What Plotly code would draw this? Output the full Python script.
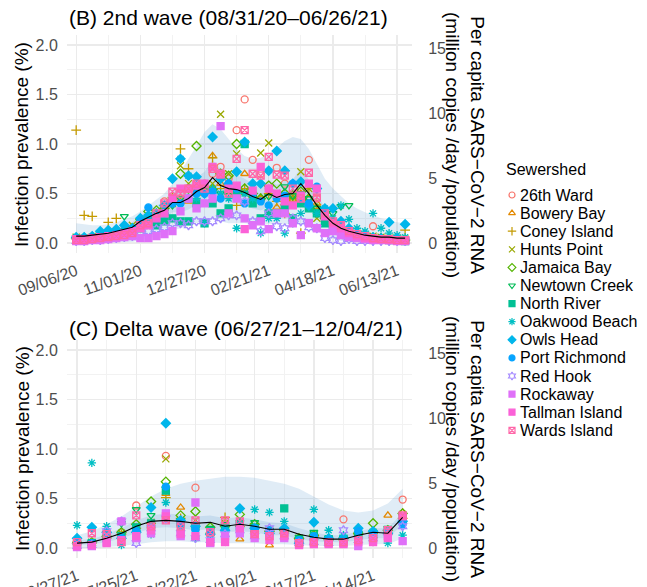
import plotly.graph_objects as go
import pandas as pd

W, H = 647, 587
FONT = "Liberation Sans, Arial, Helvetica, sans-serif"

# ---------------- data ----------------
sewersheds = ["26th Ward", "Bowery Bay", "Coney Island", "Hunts Point", "Jamaica Bay",
              "Newtown Creek", "North River", "Oakwood Beach", "Owls Head", "Port Richmond",
              "Red Hook", "Rockaway", "Tallman Island", "Wards Island"]
colors = ["#F8766D", "#E38900", "#C49A00", "#99A800", "#53B400", "#00BC56", "#00C094",
          "#00BFC4", "#00B6EB", "#06A4FF", "#A58AFF", "#DF70F8", "#FB61D7", "#FF66A8"]
symbols = ["circle-open", "triangle-up-open", "cross-thin-open", "x-thin-open", "diamond-open",
           "triangle-down-open", "square", "asterisk-open", "diamond", "circle",
           "hexagram-open", "square", "square", "square-x-open"]

weeks_b = pd.date_range("2020-09-06", periods=42, freq="7D")
weeks_c = pd.date_range("2021-06-27", periods=23, freq="7D")

# 2nd wave (B) prevalence (%) by sewershed
prev_b = {
    "26th Ward":     [0.04,0.03,0.05,0.06,0.08,0.10,0.12,0.14,0.20,0.25,0.30,0.42,0.40,0.45,0.50,0.55,0.60,0.70,0.77,0.65,1.14,1.45,0.84,0.70,0.55,0.76,0.60,0.45,0.55,0.84,0.45,0.30,0.20,0.15,0.10,0.08,0.06,0.17,0.05,0.04,0.03,0.03],
    "Bowery Bay":    [0.05,0.04,0.05,0.06,0.07,0.09,0.11,0.13,0.18,0.28,0.26,0.30,0.46,0.42,0.42,0.50,0.55,0.88,0.60,0.52,0.55,0.70,0.48,0.45,0.50,0.36,0.40,0.44,0.50,0.45,0.40,0.28,0.18,0.12,0.10,0.08,0.06,0.05,0.05,0.04,0.04,0.03],
    "Coney Island":  [1.14,0.28,0.27,0.10,0.21,0.25,0.12,0.14,0.22,0.24,0.30,0.35,0.46,0.95,0.75,0.55,0.53,0.86,0.55,0.50,0.38,0.55,0.60,0.45,0.50,0.42,0.30,0.45,0.10,0.55,0.35,0.30,0.18,0.14,0.10,0.08,0.06,0.06,0.05,0.04,0.04,0.13],
    "Hunts Point":   [0.06,0.05,0.06,0.07,0.08,0.10,0.12,0.18,0.20,0.18,0.30,0.35,0.40,0.78,0.60,0.55,0.55,0.60,1.30,0.70,0.90,0.52,0.47,0.91,1.01,0.50,0.45,0.48,0.72,0.55,0.25,0.30,0.20,0.15,0.12,0.10,0.08,0.07,0.06,0.05,0.05,0.04],
    "Jamaica Bay":   [0.05,0.05,0.06,0.07,0.08,0.10,0.12,0.15,0.24,0.32,0.33,0.35,0.40,0.70,0.55,0.98,0.55,0.54,0.70,0.68,1.00,0.55,0.50,0.45,0.58,0.60,0.50,0.48,0.52,0.45,0.35,0.25,0.18,0.14,0.10,0.08,0.06,0.05,0.05,0.04,0.04,0.03],
    "Newtown Creek": [0.06,0.05,0.06,0.07,0.08,0.10,0.27,0.15,0.20,0.22,0.28,0.32,0.38,0.45,0.55,0.55,0.54,0.53,0.50,0.48,0.52,0.50,0.46,0.43,0.47,0.48,0.57,0.48,0.50,0.45,0.35,0.25,0.30,0.37,0.38,0.10,0.08,0.06,0.05,0.05,0.04,0.02],
    "North River":   [0.04,0.04,0.05,0.05,0.06,0.08,0.10,0.12,0.15,0.20,0.18,0.22,0.25,0.22,0.22,0.40,0.20,0.40,0.30,0.35,0.50,1.00,0.40,0.25,0.30,0.30,0.35,0.25,0.40,0.35,0.30,0.20,0.15,0.12,0.10,0.08,0.05,0.04,0.04,0.03,0.03,0.02],
    "Oakwood Beach": [0.05,0.05,0.06,0.07,0.08,0.10,0.12,0.14,0.18,0.22,0.25,0.30,0.40,0.85,0.68,0.45,0.20,0.55,0.50,0.45,0.15,0.50,0.45,0.10,0.25,0.25,0.10,0.20,0.30,0.40,0.30,0.35,0.25,0.38,0.24,0.15,0.12,0.30,0.15,0.10,0.08,0.06],
    "Owls Head":     [0.06,0.06,0.07,0.12,0.13,0.14,0.18,0.15,0.25,0.28,0.30,0.38,0.65,0.85,0.68,0.67,0.50,1.07,0.65,0.60,0.72,1.02,0.60,0.60,0.73,0.93,0.73,0.60,0.62,0.38,0.55,0.35,0.35,0.22,0.15,0.10,0.08,0.06,0.05,0.21,0.05,0.19],
    "Port Richmond": [0.04,0.04,0.05,0.06,0.07,0.09,0.10,0.12,0.22,0.36,0.25,0.30,0.40,0.40,0.45,0.50,0.50,0.52,0.45,0.60,0.55,0.40,0.50,0.42,0.38,0.45,0.48,0.60,0.45,0.40,0.57,0.30,0.20,0.15,0.10,0.08,0.06,0.05,0.04,0.04,0.03,0.03],
    "Red Hook":      [0.02,0.02,0.03,0.03,0.04,0.05,0.06,0.07,0.10,0.12,0.14,0.16,0.20,0.20,0.18,0.22,0.22,0.22,0.25,0.28,0.28,0.42,0.22,0.12,0.30,0.17,0.15,0.25,0.22,0.16,0.15,0.05,0.03,0.02,0.04,0.02,0.02,0.02,0.02,0.02,0.02,0.02],
    "Rockaway":      [0.02,0.02,0.03,0.03,0.04,0.05,0.06,0.07,0.05,0.05,0.07,0.09,0.12,0.32,0.45,0.35,0.40,0.45,1.18,0.30,0.45,0.25,0.18,0.22,0.14,0.30,0.30,0.20,0.08,0.20,0.15,0.10,0.12,0.08,0.06,0.05,0.04,0.03,0.03,0.03,0.02,0.02],
    "Tallman Island":[0.04,0.04,0.05,0.06,0.07,0.08,0.10,0.12,0.15,0.18,0.25,0.30,0.45,0.55,0.55,0.58,0.60,0.77,0.70,0.55,0.58,0.14,0.53,0.77,0.55,0.50,0.42,0.38,0.48,0.60,0.55,0.27,0.20,0.15,0.10,0.07,0.05,0.04,0.04,0.03,0.03,0.03],
    "Wards Island":  [0.03,0.03,0.04,0.05,0.06,0.07,0.08,0.10,0.18,0.20,0.30,0.40,0.52,0.50,0.55,0.60,0.55,0.75,0.69,0.50,0.85,1.14,0.70,0.68,0.87,0.69,0.68,0.55,0.45,0.71,0.46,0.30,0.22,0.18,0.12,0.09,0.07,0.05,0.04,0.04,0.03,0.03],
}
median_b   = [0.07,0.07,0.08,0.09,0.10,0.12,0.14,0.16,0.22,0.26,0.30,0.33,0.41,0.41,0.45,0.52,0.56,0.66,0.58,0.55,0.54,0.51,0.47,0.44,0.50,0.46,0.49,0.50,0.60,0.50,0.38,0.28,0.20,0.15,0.12,0.10,0.08,0.07,0.06,0.06,0.05,0.05]
outer_hi_b = [0.20,0.19,0.18,0.18,0.19,0.21,0.24,0.27,0.32,0.38,0.44,0.50,0.60,0.72,0.85,0.98,1.12,1.20,1.15,1.05,0.95,0.88,0.85,0.86,0.90,0.96,1.03,1.07,1.05,0.95,0.80,0.65,0.55,0.47,0.40,0.35,0.31,0.28,0.25,0.23,0.21,0.20]
outer_lo_b = [0.01,0.01,0.01,0.01,0.01,0.01,0.01,0.01,0.03,0.05,0.07,0.10,0.13,0.15,0.17,0.20,0.22,0.24,0.22,0.20,0.20,0.20,0.19,0.18,0.19,0.19,0.19,0.19,0.19,0.18,0.12,0.08,0.05,0.02,0.02,0.02,0.02,0.02,0.02,0.02,0.02,0.02]
inner_hi_b = [0.09,0.09,0.10,0.11,0.13,0.15,0.18,0.21,0.28,0.33,0.38,0.42,0.52,0.53,0.58,0.66,0.72,0.84,0.75,0.71,0.69,0.65,0.60,0.57,0.64,0.59,0.63,0.64,0.76,0.64,0.49,0.36,0.26,0.19,0.15,0.13,0.10,0.09,0.08,0.08,0.07,0.07]
inner_lo_b = [0.05,0.05,0.06,0.07,0.07,0.09,0.10,0.12,0.16,0.19,0.22,0.25,0.31,0.31,0.34,0.39,0.42,0.50,0.44,0.41,0.40,0.38,0.35,0.33,0.37,0.34,0.37,0.37,0.45,0.37,0.28,0.21,0.15,0.11,0.09,0.07,0.06,0.05,0.04,0.04,0.04,0.04]

# Delta wave (C) prevalence (%) by sewershed
prev_c = {
    "26th Ward":     [0.08,0.05,0.12,0.12,0.43,0.25,0.93,0.22,0.61,0.15,0.20,0.25,0.15,0.18,0.14,0.06,0.10,0.07,0.29,0.10,0.12,0.18,0.49],
    "Bowery Bay":    [0.05,0.04,0.10,0.12,0.18,0.22,0.55,0.41,0.25,0.14,0.25,0.09,0.18,0.03,0.18,0.08,0.10,0.06,0.07,0.14,0.12,0.33,0.36],
    "Coney Island":  [0.06,0.05,0.10,0.14,0.20,0.25,0.51,0.30,0.25,0.15,0.31,0.22,0.20,0.17,0.15,0.09,0.12,0.08,0.08,0.14,0.15,0.14,0.30],
    "Hunts Point":   [0.06,0.06,0.10,0.15,0.22,0.26,0.90,0.28,0.28,0.18,0.25,0.22,0.22,0.18,0.18,0.10,0.10,0.09,0.09,0.12,0.16,0.15,0.34],
    "Jamaica Bay":   [0.05,0.06,0.12,0.16,0.24,0.47,0.67,0.33,0.37,0.21,0.22,0.34,0.24,0.17,0.18,0.10,0.13,0.09,0.10,0.15,0.25,0.18,0.35],
    "Newtown Creek": [0.04,0.06,0.15,0.25,0.39,0.33,0.60,0.28,0.20,0.20,0.24,0.26,0.26,0.18,0.18,0.11,0.16,0.10,0.10,0.15,0.16,0.20,0.32],
    "North River":   [0.04,0.05,0.10,0.12,0.21,0.25,0.58,0.26,0.22,0.17,0.20,0.22,0.20,0.16,0.40,0.08,0.12,0.09,0.09,0.13,0.14,0.18,0.28],
    "Oakwood Beach": [0.23,0.86,0.22,0.03,0.18,0.14,0.46,0.18,0.10,0.08,0.12,0.26,0.39,0.36,0.27,0.06,0.39,0.18,0.13,0.10,0.10,0.05,0.13],
    "Owls Head":     [0.10,0.21,0.16,0.10,0.16,0.41,1.26,0.28,0.22,0.14,0.18,0.40,0.20,0.15,0.20,0.05,0.26,0.10,0.10,0.20,0.17,0.15,0.27],
    "Port Richmond": [0.05,0.05,0.08,0.10,0.17,0.20,0.62,0.25,0.18,0.16,0.12,0.22,0.20,0.18,0.16,0.08,0.12,0.08,0.07,0.17,0.14,0.14,0.24],
    "Red Hook":      [0.02,0.03,0.17,0.27,0.05,0.20,0.30,0.15,0.10,0.08,0.14,0.18,0.12,0.20,0.12,0.05,0.06,0.05,0.18,0.08,0.10,0.16,0.22],
    "Rockaway":      [0.01,0.02,0.06,0.27,0.10,0.15,0.35,0.12,0.46,0.05,0.12,0.15,0.10,0.12,0.10,0.04,0.06,0.05,0.05,0.02,0.08,0.12,0.07],
    "Tallman Island":[0.02,0.03,0.05,0.08,0.12,0.18,0.32,0.14,0.12,0.06,0.06,0.20,0.14,0.08,0.12,0.03,0.04,0.04,0.04,0.06,0.06,0.10,0.32],
    "Wards Island":  [0.06,0.15,0.14,0.06,0.33,0.22,0.28,0.22,0.28,0.16,0.28,0.27,0.14,0.12,0.15,0.05,0.06,0.06,0.06,0.08,0.10,0.18,0.33],
}
median_c   = [0.05,0.06,0.10,0.15,0.22,0.27,0.28,0.27,0.25,0.26,0.22,0.24,0.22,0.19,0.19,0.14,0.11,0.09,0.09,0.13,0.16,0.15,0.31]
outer_hi_c = [0.13,0.17,0.24,0.32,0.42,0.52,0.60,0.65,0.68,0.70,0.72,0.72,0.71,0.68,0.65,0.60,0.52,0.44,0.38,0.36,0.38,0.45,0.60]
outer_lo_c = [0.00,0.00,0.01,0.02,0.04,0.06,0.07,0.07,0.06,0.06,0.05,0.05,0.05,0.04,0.04,0.03,0.02,0.02,0.02,0.03,0.04,0.04,0.10]
inner_hi_c = [0.08,0.09,0.14,0.20,0.28,0.33,0.35,0.34,0.32,0.33,0.30,0.31,0.29,0.26,0.25,0.20,0.16,0.13,0.13,0.17,0.20,0.20,0.36]
inner_lo_c = [0.03,0.04,0.06,0.10,0.15,0.20,0.21,0.20,0.18,0.19,0.16,0.17,0.16,0.13,0.13,0.09,0.07,0.06,0.06,0.08,0.10,0.10,0.24]

rna_per_pct = 7.615          # secondary axis scale (million copies/day/pop per 1 % prevalence)
left_ticks = [0, 0.5, 1.0, 1.5, 2.0]
right_ticks = [0, 5, 10, 15]

# ---------------- figure ----------------
def py(p):
    return 1 - p / H

fig = go.Figure()
RIB = "rgba(100,160,210,0.20)"
MS = 7

panels = [
    (weeks_b, prev_b, median_b, outer_lo_b, outer_hi_b, inner_lo_b, inner_hi_b, "x", "y"),
    (weeks_c, prev_c, median_c, outer_lo_c, outer_hi_c, inner_lo_c, inner_hi_c, "x2", "y2"),
]
for wk, prev, med, olo, ohi, ilo, ihi, xa, ya in panels:
    for lo, hi in [(olo, ohi), (ilo, ihi)]:
        fig.add_trace(go.Scatter(x=wk, y=lo, mode="lines", line=dict(width=0), xaxis=xa, yaxis=ya,
                                 showlegend=False, hoverinfo="skip"))
        fig.add_trace(go.Scatter(x=wk, y=hi, mode="lines", line=dict(width=0), fill="tonexty",
                                 fillcolor=RIB, xaxis=xa, yaxis=ya, showlegend=False, hoverinfo="skip"))
    for name, col, sym in zip(sewersheds, colors, symbols):
        fig.add_trace(go.Scatter(x=wk, y=prev[name], mode="markers", name=name, xaxis=xa, yaxis=ya,
                                 marker=dict(symbol=sym, size=MS, color=col, line=dict(width=1.3, color=col)),
                                 showlegend=False))
    fig.add_trace(go.Scatter(x=wk, y=med, mode="lines", line=dict(color="black", width=1.1),
                             xaxis=xa, yaxis=ya, showlegend=False))

# anchor traces for the secondary (RNA) axes
fig.add_trace(go.Scatter(x=[None], y=[None], xaxis="x", yaxis="y3", showlegend=False))
fig.add_trace(go.Scatter(x=[None], y=[None], xaxis="x2", yaxis="y4", showlegend=False))

# manual legend (pixel coordinate axis)
LEG_Y0, LEG_DY = 195.0, 18.1
LEG_F = dict(size=16, color="black", family=FONT)
for i, (name, col, sym) in enumerate(zip(sewersheds, colors, symbols)):
    fig.add_trace(go.Scatter(x=[512], y=[LEG_Y0 + LEG_DY * i], mode="markers", xaxis="x3", yaxis="y5",
                             marker=dict(symbol=sym, size=6, color=col, line=dict(width=1.2, color=col)),
                             showlegend=False, hoverinfo="skip"))
    fig.add_annotation(x=518, y=LEG_Y0 + LEG_DY * i, xref="x3", yref="y5", text=name, showarrow=False,
                       xanchor="left", yanchor="middle", font=LEG_F)
fig.add_annotation(x=504, y=169, xref="x3", yref="y5", text="Sewershed", showarrow=False,
                   xanchor="left", yanchor="middle", font=LEG_F)

GRID = "#EBEBEB"
MINOR = "#F2F2F2"
TICKF = dict(size=16, color="#4D4D4D", family=FONT)
XD = [67 / W, 412 / W]
DAY = 86400000

def xaxis_cfg(rng, tick0, major_days, dom_anchor):
    return dict(domain=XD, anchor=dom_anchor, type="date", range=rng, tick0=tick0,
                dtick=major_days * DAY, tickformat="%m/%d/%y", tickangle=-20,
                showgrid=True, gridcolor=GRID, gridwidth=1.3, zeroline=False, showline=False,
                ticks="outside", ticklen=2, tickcolor="rgba(0,0,0,0)", tickfont=TICKF,
                minor=dict(tick0=tick0, dtick=major_days // 2 * DAY, showgrid=True,
                           gridcolor=MINOR, gridwidth=1.0, ticks=""),
                automargin=False)

def yaxis_cfg(dom, anchor):
    return dict(domain=dom, anchor=anchor, range=[-0.1, 2.1], tickvals=left_ticks, tickformat=".1f",
                showgrid=True, gridcolor=GRID, gridwidth=1.3, zeroline=False, showline=False,
                ticks="outside", ticklen=5, tickcolor="rgba(0,0,0,0)", tickfont=TICKF,
                minor=dict(tick0=0, dtick=0.25, showgrid=True, gridcolor=MINOR, gridwidth=1.0, ticks=""),
                automargin=False)

def raxis_cfg(over, anchor):
    return dict(overlaying=over, anchor=anchor, side="right",
                range=[-0.1 * rna_per_pct, 2.1 * rna_per_pct], tickvals=right_ticks,
                showgrid=False, zeroline=False, showline=False, ticks="outside", ticklen=12,
                tickcolor="rgba(0,0,0,0)", tickfont=TICKF, automargin=False)

fig.update_layout(
    width=W, height=H, template="none",
    margin=dict(l=0, r=0, t=0, b=0, pad=0),
    paper_bgcolor="white", plot_bgcolor="rgba(0,0,0,0)",
    font=dict(family=FONT, color="black"),
    showlegend=False,
    xaxis=xaxis_cfg(["2020-08-29", "2021-06-26"], "2020-09-06", 56, "y"),
    xaxis2=xaxis_cfg(["2021-06-22 06:00", "2021-12-02 10:00"], "2021-06-27", 28, "y2"),
    yaxis=yaxis_cfg([py(253), py(35)], "x"),
    yaxis2=yaxis_cfg([py(558), py(340)], "x2"),
    yaxis3=raxis_cfg("y", "x"),
    yaxis4=raxis_cfg("y2", "x2"),
    xaxis3=dict(domain=[450 / W, 1], range=[450, W], visible=False, anchor="y5", fixedrange=True),
    yaxis5=dict(domain=[0, 1], range=[H, 0], visible=False, anchor="x3", fixedrange=True),
)

# panel titles and axis titles
TITLE_F = dict(size=21, color="black", family=FONT)
AX_F = dict(size=19, color="black", family=FONT)
fig.add_annotation(x=67 / W, y=py(17), xref="paper", yref="paper", text="(B) 2nd wave (08/31/20–06/26/21)",
                   showarrow=False, xanchor="left", yanchor="middle", font=TITLE_F)
fig.add_annotation(x=67 / W, y=py(328), xref="paper", yref="paper", text="(C) Delta wave (06/27/21–12/04/21)",
                   showarrow=False, xanchor="left", yanchor="middle", font=TITLE_F)
for yc in (145, 449):
    fig.add_annotation(x=22 / W, y=py(yc), xref="paper", yref="paper", text="Infection prevalence (%)",
                       textangle=-90, showarrow=False, xanchor="center", yanchor="middle", font=AX_F)
    fig.add_annotation(x=465 / W, y=py(yc), xref="paper", yref="paper",
                       text="Per capita SARS−CoV−2 RNA<br>(million copies /day /population)",
                       textangle=90, showarrow=False, xanchor="center", yanchor="middle", font=AX_F)

fig.write_html("out.html", config={"displayModeBar": False, "staticPlot": True},
               post_script="document.body.style.margin='0';document.body.style.padding='0';document.body.style.overflow='hidden';")
